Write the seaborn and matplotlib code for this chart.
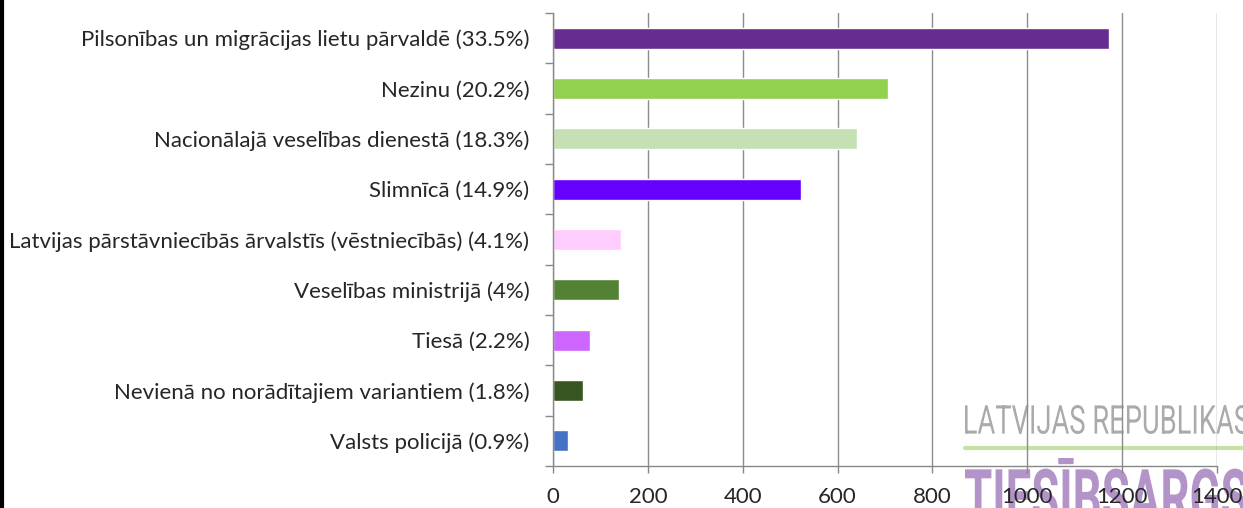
import numpy as np
import pandas as pd
import matplotlib
matplotlib.use('Agg')
import matplotlib.pyplot as plt
from matplotlib.lines import Line2D
from matplotlib.textpath import TextPath
from matplotlib.patches import PathPatch
from matplotlib.font_manager import FontProperties
from matplotlib.transforms import Affine2D
import seaborn as sns

# Data
categories = [
    'Pilsonības un migrācijas lietu pārvaldē (33.5%)',
    'Nezinu (20.2%)',
    'Nacionālajā veselības dienestā (18.3%)',
    'Slimnīcā (14.9%)',
    'Latvijas pārstāvniecībās ārvalstīs (vēstniecībās) (4.1%)',
    'Veselības ministrijā (4%)',
    'Tiesā (2.2%)',
    'Nevienā no norādītajiem variantiem (1.8%)',
    'Valsts policijā (0.9%)',
]
counts = [1172, 707, 641, 523, 144, 139, 77, 63, 32]
colors = ['#662D91', '#92D050', '#C5E0B4', '#6600FF', '#FFCCFF',
          '#548235', '#CC66FF', '#375623', '#4472C4']
x_ticks = [0, 200, 400, 600, 800, 1000, 1200, 1400]

df = pd.DataFrame({'category': categories, 'count': counts})

W, H = 1243, 508

sns.set_style('white')
plt.rcParams['font.family'] = ['Lato', 'DejaVu Sans']

fig = plt.figure(figsize=(W / 100, H / 100), dpi=100)
ax = fig.add_axes([553 / W, 1 - 466 / H, 664 / W, 453 / H])
ax.patch.set_alpha(0)


def logo_text(s, x0, y_top, width, height, color, weight):
    # text squeezed into a given pixel box (the logo uses a condensed face)
    tp = TextPath((0, 0), s, size=100, prop=FontProperties(family='Roboto', weight=weight))
    ext = tp.get_extents()
    tr = (Affine2D().translate(-ext.x0, -ext.y1)
          .scale(width / ext.width, height / ext.height)
          .translate(x0, H - y_top))
    fig.add_artist(PathPatch(tp, transform=tr, facecolor=color, edgecolor='none', zorder=-5))


# logo behind the chart
logo_text('LATVIJAS REPUBLIKAS', 965, 405, 284, 29, '#aaaaaa', 'normal')
fig.add_artist(Line2D([965 / W, 1.0], [1 - 448 / H] * 2, color='#C8E2A6',
                      linewidth=3, zorder=-5))
logo_text('TIESĪBSARGS', 965, 458, 282, 66, '#B294C8', 'bold')

sns.barplot(data=df, y='category', x='count', hue='category', palette=colors,
            orient='h', width=0.42, legend=False, ax=ax, saturation=1)

ax.set_xlim(0, 1400)
ax.set_ylim(len(categories) - 0.5, -0.5)
ax.set_xticks(x_ticks)
ax.set_xticklabels([str(t) for t in x_ticks], fontsize=16)
ax.set_yticks(range(len(categories)))
ax.set_yticklabels(categories, fontsize=16)
ax.set_yticks(np.arange(-0.5, len(categories), 1), minor=True)
ax.tick_params(axis='y', which='major', length=0, pad=17)
ax.tick_params(axis='y', which='minor', length=6, color='#888888', width=1, left=True)
ax.tick_params(axis='x', length=5, color='#888888', width=1, bottom=True, pad=10)
ax.set_xlabel('')
ax.set_ylabel('')

ax.grid(axis='x', color='#8c8c8c', linewidth=1)
ax.set_axisbelow(True)
for side in ['top', 'right']:
    ax.spines[side].set_visible(False)
for side in ['left', 'bottom']:
    ax.spines[side].set_color('#888888')
    ax.spines[side].set_linewidth(1)

# thick black frame line on the left edge
fig.add_artist(Line2D([2 / W, 2 / W], [0, 1], color='black', linewidth=3))

fig.savefig('out.png', dpi=100)
